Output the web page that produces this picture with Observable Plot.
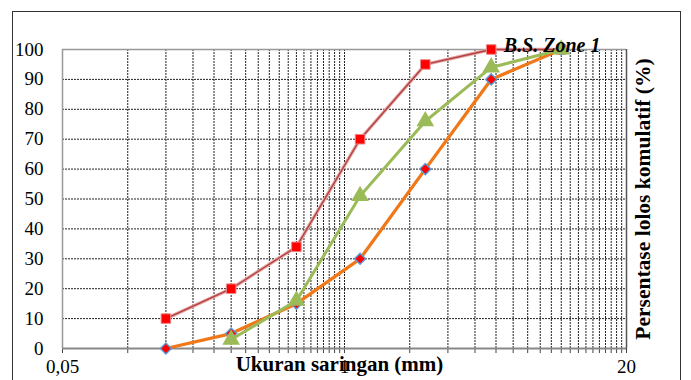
<!DOCTYPE html>
<html>
<head>
<meta charset="utf-8">
<script src="https://cdn.jsdelivr.net/npm/d3@7"></script>
<script src="https://cdn.jsdelivr.net/npm/@observablehq/plot@0.6"></script>
<style>
  html, body { margin: 0; padding: 0; background: #fff; }
  #wrap { position: relative; width: 691px; height: 380px; overflow: hidden; }
  #border { position: absolute; left: 12px; top: 11px; width: 669px; height: 400px; border: 1.5px solid #333; box-sizing: border-box; pointer-events: none; }
</style>
</head>
<body>
<div id="wrap"><div id="border"></div></div>
<script>
// Sieve sizes (mm) and cumulative percent passing
const sieve = [0.15, 0.3, 0.6, 1.18, 2.36, 4.75, 10];
const upperLimit = [10, 20, 34, 70, 95, 100, 100];   // B.S. Zone 1 upper
const lowerLimit = [0, 5, 15, 30, 60, 90, 100];      // B.S. Zone 1 lower
const sampleSieve = [0.3, 0.6, 1.18, 2.36, 4.75, 10];
const samplePass = [3, 16, 51, 76, 94, 100];

const xTickLabels = [0.05, 1, 20];
const yTicks = [0, 10, 20, 30, 40, 50, 60, 70, 80, 90, 100];
const xGrid = [0.1, 0.15, 0.2, 0.25, 0.3, 0.35, 0.4, 0.45, 0.5, 0.55, 0.6, 0.65, 0.7, 0.75, 0.8, 0.85, 0.9, 0.95, 1,
               2, 3, 4, 5, 6, 7, 8, 9, 10, 11, 12, 13, 14, 15, 16, 17, 18, 19];
const xTickMarks = [0.05, ...xGrid, 20];

const upperData = sieve.map((s, i) => ({x: s, y: upperLimit[i]}));
const lowerData = sieve.map((s, i) => ({x: s, y: lowerLimit[i]}));
const sampleData = sampleSieve.map((s, i) => ({x: s, y: samplePass[i]}));

const font = "'Liberation Serif', 'Times New Roman', Times, serif";

const chart = Plot.plot({
  width: 691,
  height: 380,
  marginLeft: 62,
  marginRight: 65,
  marginTop: 49,
  marginBottom: 32,
  style: {fontFamily: font, fontSize: "18px", color: "#000", background: "transparent", overflow: "visible"},
  x: {type: "log", domain: [0.05, 20], label: null},
  y: {domain: [0, 100], label: null, axis: null},
  marks: [
    Plot.ruleX(xGrid, {stroke: "#222", strokeWidth: 1, strokeDasharray: "2,1"}),
    Plot.ruleY(yTicks.filter(d => d > 0 && d < 100), {stroke: "#222", strokeWidth: 1, strokeDasharray: "2,1"}),
    Plot.ruleY([100], {stroke: "#999", strokeWidth: 1.5}),
    Plot.ruleX([0.05], {stroke: "#999", strokeWidth: 1.5}),
    Plot.ruleX([20], {stroke: "#555", strokeWidth: 1.5}),
    Plot.axisX({ticks: xTickMarks, tickSize: 5, text: null, label: null, stroke: "#444"}),
    // tick labels
    Plot.text(xTickLabels, {x: d => d, frameAnchor: "bottom", dy: 24, text: d => String(d).replace(".", ","), fontSize: 19, fontFamily: font, fill: "#000"}),
    Plot.text(yTicks, {y: d => d, frameAnchor: "left", dx: -19, textAnchor: "end", text: d => String(d), fontSize: 19, fontFamily: font, fill: "#000"}),
    Plot.ruleY([0], {stroke: "#888", strokeWidth: 2}),
    // upper limit (red)
    Plot.line(upperData, {x: "x", y: "y", stroke: "#e6a4a4", strokeWidth: 3.4}),
    Plot.line(upperData, {x: "x", y: "y", stroke: "#b0403e", strokeWidth: 1.3}),
    Plot.dot(upperData, {x: "x", y: "y", symbol: "square", r: 5.4, fill: "#ff0000", stroke: "#e88a8a", strokeWidth: 1}),
    // lower limit (orange)
    Plot.line(lowerData, {x: "x", y: "y", stroke: "#f07818", strokeWidth: 3.3}),
    Plot.dot(lowerData, {x: "x", y: "y", symbol: "diamond2", r: 5, fill: "#ff0000", stroke: "#5b9bd5", strokeWidth: 1.4}),
    // sample (green)
    Plot.line(sampleData, {x: "x", y: "y", stroke: "#9bbb59", strokeWidth: 3}),
    Plot.dot(sampleData, {x: "x", y: "y", symbol: "triangle", r: 5.6, fill: "#9bbb59", stroke: "#9bbb59"}),
    // texts
    Plot.text(["B.S. Zone 1"], {frameAnchor: "top-right", dx: -26, dy: -12, textAnchor: "end", fontWeight: "bold", fontStyle: "italic", fontSize: 20, fontFamily: font, fill: "#000"}),
    Plot.text(["Ukuran saringan (mm)"], {frameAnchor: "bottom", dx: -5, dy: 22, textAnchor: "middle", fontWeight: "bold", fontSize: 21, fontFamily: font, fill: "#000"}),
    Plot.text(["Persentase lolos komulatif (%)"], {frameAnchor: "right", dx: 17, dy: 0, textAnchor: "middle", rotate: -90, fontWeight: "bold", fontSize: 21.5, fontFamily: font, fill: "#000"})
  ]
});
document.getElementById("wrap").appendChild(chart);
</script>
</body>
</html>
